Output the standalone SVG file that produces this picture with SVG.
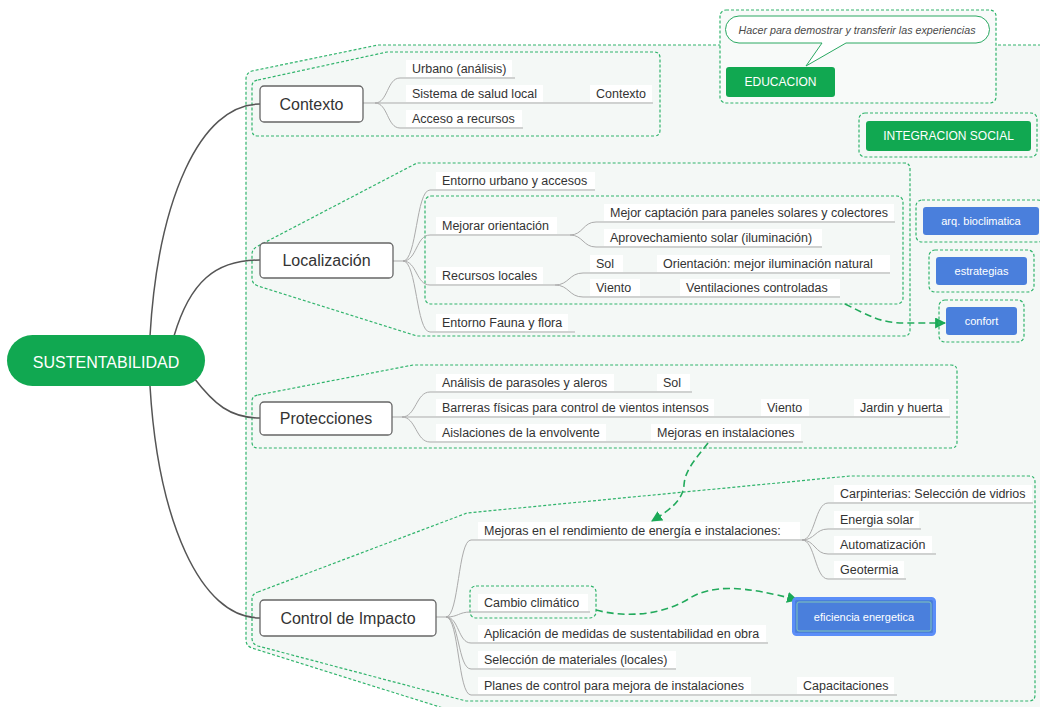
<svg xmlns="http://www.w3.org/2000/svg" width="1040" height="707" viewBox="0 0 1040 707">
<defs>
<style>
text{font-family:"Liberation Sans",Arial,Helvetica,sans-serif}
.dash{fill:none;stroke:#30b46c;stroke-width:1.2;stroke-dasharray:3 2}
.box{fill:#fff;stroke:#666;stroke-width:1.3}
.main{font-size:16px;fill:#333}
.lbl{font-size:12.5px;fill:#333}
.bg{fill:#fff}
.ul{fill:none;stroke:#ababab;stroke-width:1}
.trunk{fill:none;stroke:#555;stroke-width:1.5}
.link{fill:none;stroke:#22aa5c;stroke-width:1.6;stroke-dasharray:7 4}
.green{fill:#11a851}
.blue{fill:#4a7fdc}
.wt{fill:#fff;text-anchor:middle}
</style>
<marker id="arr" viewBox="0 0 10 10" refX="9" refY="5" markerWidth="11" markerHeight="11" markerUnits="userSpaceOnUse" orient="auto">
<path d="M0,0 L10,5 L0,10 Z" fill="#1aa957"/>
</marker>
</defs>
<rect width="1040" height="707" fill="#fff"/>
<!-- outer boundary -->
<path d="M1046,45 H378 L252,71 Q246,73 246,79 V640 Q246,646 252,648 L462,714 H1046 Z" fill="#f4f8f6"/>
<path class="dash" d="M1046,45 H378 L252,71 Q246,73 246,79 V640 Q246,646 252,648 L462,714"/>

<!-- group boundaries -->
<g id="boundaries">
<path class="dash" d="M258,80 L387,52 H654 Q660,52 660,58 V130 Q660,136 654,136 H258 Q252,136 252,130 V86 Q252,81 258,80 Z"/>
<path class="dash" d="M258,246 L417,163 H904 Q910,163 910,169 V330 Q910,336 904,336 H417 L258,286 Q252,284 252,278 V254 Q252,249 258,246 Z"/>
<rect class="dash" x="425" y="196" width="478" height="108" rx="6"/>
<path class="dash" d="M258,395 L413,365 H951 Q957,365 957,371 V442 Q957,448 951,448 H258 Q252,448 252,442 V401 Q252,396 258,395 Z"/>
<path class="dash" d="M258,592 L467,513 L850,476 H1029 Q1035,476 1035,482 V695 Q1035,701 1029,701 H466 L258,646 Q252,644 252,638 V599 Q252,594 258,592 Z"/>
<rect class="dash" x="470" y="586" width="126" height="32" rx="6"/>
</g>

<!-- connectors -->
<g id="connectors">
<path class="trunk" d="M150,336 C158,200 200,104 260,104"/>
<path class="trunk" d="M174,336 C190,282 215,260 260,260"/>
<path class="trunk" d="M194,378 C214,404 230,418 260,418"/>
<path class="trunk" d="M150,386 C158,520 200,618 260,618"/>
<!-- Contexto -->
<path class="ul" d="M363,103 H375"/>
<path class="ul" d="M375,103 C388,103 387,78 400,78 H515"/>
<path class="ul" d="M375,103 H653"/>
<path class="ul" d="M375,103 C388,103 387,128 400,128 H523"/>
<!-- Localizacion -->
<path class="ul" d="M393,261 H403"/>
<path class="ul" d="M403,261 C417,261 416,190 430,190 H595"/>
<path class="ul" d="M403,261 C417,261 416,235 430,235 H570"/>
<path class="ul" d="M403,261 C417,261 416,285 430,285 H555"/>
<path class="ul" d="M403,261 C417,261 416,332 430,332 H575"/>
<path class="ul" d="M570,235 C583,235 583,222 596,222 H895"/>
<path class="ul" d="M570,235 C583,235 583,247 596,247 H822"/>
<path class="ul" d="M555,285 C569,285 569,273 583,273 H890"/>
<path class="ul" d="M555,285 C569,285 569,297 583,297 H840"/>
<!-- Protecciones -->
<path class="ul" d="M392,417 H402"/>
<path class="ul" d="M402,417 C416,417 416,392 430,392 H692"/>
<path class="ul" d="M402,417 H950"/>
<path class="ul" d="M402,417 C416,417 416,442 430,442 H803"/>
<!-- Control de Impacto -->
<path class="ul" d="M436,617 H446"/>
<path class="ul" d="M446,617 C459,617 458,540 471,540 H802"/>
<path class="ul" d="M446,617 C459,617 458,612 471,612 H590"/>
<path class="ul" d="M446,617 C459,617 458,643 471,643 H768"/>
<path class="ul" d="M446,617 C459,617 458,669 471,669 H676"/>
<path class="ul" d="M446,617 C459,617 458,695 471,695 H897"/>
<path class="ul" d="M802,540 C815,540 815,503 828,503 H1033"/>
<path class="ul" d="M802,540 C815,540 815,529 828,529 H921"/>
<path class="ul" d="M802,540 C815,540 815,554 828,554 H936"/>
<path class="ul" d="M802,540 C815,540 815,579 828,579 H906"/>
<!-- dashed relationship arrows -->
<path class="link" d="M845,304 C870,316 880,323 905,323 L945,323" marker-end="url(#arr)"/>
<path class="link" d="M708,443 C695,460 685,470 684,485 C683,500 670,510 652,521" marker-end="url(#arr)"/>
<path class="link" d="M596,610 C622,617 660,617 690,598 C712,585 742,585 797,600" marker-end="url(#arr)"/>
</g>

<!-- main node -->
<g id="n-sustentabilidad">
<rect class="green" x="7" y="335" width="198" height="51" rx="25.5"/>
<text class="wt" x="106" y="368" font-size="16">SUSTENTABILIDAD</text>
</g>

<!-- Contexto -->
<g id="n-contexto">
<rect class="box" x="260" y="86" width="103" height="36" rx="4"/>
<text class="main" x="311.5" y="110" text-anchor="middle">Contexto</text>
</g>
<g id="n-urbano"><rect class="bg" x="406" y="60" width="106" height="17"/><text class="lbl" x="412" y="73">Urbano (análisis)</text></g>
<g id="n-sistema"><rect class="bg" x="406" y="85" width="137" height="17"/><text class="lbl" x="412" y="98">Sistema de salud local</text></g>
<g id="n-contexto2"><rect class="bg" x="590" y="85" width="62" height="17"/><text class="lbl" x="596" y="98">Contexto</text></g>
<g id="n-acceso"><rect class="bg" x="406" y="110" width="116" height="17"/><text class="lbl" x="412" y="123">Acceso a recursos</text></g>

<!-- Localizacion -->
<g id="n-localizacion">
<rect class="box" x="260" y="243" width="133" height="35" rx="4"/>
<text class="main" x="326.5" y="266" text-anchor="middle">Localización</text>
</g>
<g id="n-entorno-urbano"><rect class="bg" x="436" y="172" width="159" height="17"/><text class="lbl" x="442" y="185">Entorno urbano y accesos</text></g>
<g id="n-mejorar"><rect class="bg" x="436" y="217" width="121" height="17"/><text class="lbl" x="442" y="230">Mejorar orientación</text></g>
<g id="n-captacion"><rect class="bg" x="604" y="204" width="290" height="17"/><text class="lbl" x="610" y="217">Mejor captación para paneles solares y colectores</text></g>
<g id="n-aprovechamiento"><rect class="bg" x="604" y="229" width="218" height="17"/><text class="lbl" x="610" y="242">Aprovechamiento solar (iluminación)</text></g>
<g id="n-recursos"><rect class="bg" x="436" y="267" width="107" height="17"/><text class="lbl" x="442" y="280">Recursos locales</text></g>
<g id="n-sol1"><rect class="bg" x="590" y="255" width="33" height="17"/><text class="lbl" x="596" y="268">Sol</text></g>
<g id="n-orientacion"><rect class="bg" x="657" y="255" width="233" height="17"/><text class="lbl" x="663" y="268">Orientación: mejor iluminación natural</text></g>
<g id="n-viento1"><rect class="bg" x="590" y="279" width="50" height="17"/><text class="lbl" x="596" y="292">Viento</text></g>
<g id="n-ventilaciones"><rect class="bg" x="680" y="279" width="160" height="17"/><text class="lbl" x="686" y="292">Ventilaciones controladas</text></g>
<g id="n-fauna"><rect class="bg" x="436" y="314" width="132" height="17"/><text class="lbl" x="442" y="327">Entorno Fauna y flora</text></g>

<!-- Protecciones -->
<g id="n-protecciones">
<rect class="box" x="260" y="402" width="132" height="33" rx="4"/>
<text class="main" x="326" y="424" text-anchor="middle">Protecciones</text>
</g>
<g id="n-analisis"><rect class="bg" x="436" y="374" width="178" height="17"/><text class="lbl" x="442" y="387">Análisis de parasoles y aleros</text></g>
<g id="n-sol2"><rect class="bg" x="657" y="374" width="33" height="17"/><text class="lbl" x="663" y="387">Sol</text></g>
<g id="n-barreras"><rect class="bg" x="436" y="399" width="278" height="17"/><text class="lbl" x="442" y="412">Barreras físicas para control de vientos intensos</text></g>
<g id="n-viento2"><rect class="bg" x="761" y="399" width="48" height="17"/><text class="lbl" x="767" y="412">Viento</text></g>
<g id="n-jardin"><rect class="bg" x="854" y="399" width="95" height="17"/><text class="lbl" x="860" y="412">Jardin y huerta</text></g>
<g id="n-aislaciones"><rect class="bg" x="436" y="424" width="170" height="17"/><text class="lbl" x="442" y="437">Aislaciones de la envolvente</text></g>
<g id="n-mejoras-inst"><rect class="bg" x="651" y="424" width="150" height="17"/><text class="lbl" x="657" y="437">Mejoras en instalaciones</text></g>

<!-- Control de Impacto -->
<g id="n-control">
<rect class="box" x="260" y="600" width="176" height="36" rx="4"/>
<text class="main" x="348" y="624" text-anchor="middle">Control de Impacto</text>
</g>
<g id="n-rendimiento"><rect class="bg" x="478" y="522" width="322" height="17"/><text class="lbl" x="484" y="535">Mejoras en el rendimiento de energía e instalaciones:</text></g>
<g id="n-carpinterias"><rect class="bg" x="834" y="485" width="198" height="17"/><text class="lbl" x="840" y="498">Carpinterias: Selección de vidrios</text></g>
<g id="n-energia"><rect class="bg" x="834" y="511" width="85" height="17"/><text class="lbl" x="840" y="524">Energia solar</text></g>
<g id="n-automatizacion"><rect class="bg" x="834" y="536" width="98" height="17"/><text class="lbl" x="840" y="549">Automatización</text></g>
<g id="n-geotermia"><rect class="bg" x="834" y="561" width="70" height="17"/><text class="lbl" x="840" y="574">Geotermia</text></g>
<g id="n-cambio"><rect class="bg" x="478" y="594" width="110" height="17"/><text class="lbl" x="484" y="607">Cambio climático</text></g>
<g id="n-aplicacion"><rect class="bg" x="478" y="625" width="288" height="17"/><text class="lbl" x="484" y="638">Aplicación de medidas de sustentabilidad en obra</text></g>
<g id="n-seleccion"><rect class="bg" x="478" y="651" width="198" height="17"/><text class="lbl" x="484" y="664">Selección de materiales (locales)</text></g>
<g id="n-planes"><rect class="bg" x="478" y="677" width="273" height="17"/><text class="lbl" x="484" y="690">Planes de control para mejora de instalaciones</text></g>
<g id="n-capacitaciones"><rect class="bg" x="797" y="677" width="97" height="17"/><text class="lbl" x="803" y="690">Capacitaciones</text></g>

<!-- EDUCACION -->
<g id="n-educacion">
<rect class="dash" x="720" y="10" width="276" height="93" rx="6" style="fill:#f8faf9"/>
<path d="M739,16 H976 A13.5,13.5 0 0 1 976,43 H846 L806,66 L822,43 H739 A13.5,13.5 0 0 1 739,16 Z" fill="#fff" stroke="#2aa862" stroke-width="1"/>
<text x="857" y="34" font-size="10.7" font-style="italic" fill="#4a4a4a" text-anchor="middle">Hacer para demostrar y transferir las experiencias</text>
<rect class="green" x="726" y="67" width="109" height="30" rx="3"/>
<text class="wt" x="780.5" y="86" font-size="12">EDUCACION</text>
</g>

<!-- INTEGRACION SOCIAL -->
<g id="n-integracion">
<rect class="dash" x="859" y="113" width="178" height="44" rx="6"/>
<rect class="green" x="866" y="121" width="165" height="30" rx="3"/>
<text class="wt" x="948.5" y="140" font-size="12">INTEGRACION SOCIAL</text>
</g>

<!-- blue nodes -->
<g id="n-arq">
<rect class="dash" x="916" y="200" width="128" height="42" rx="6"/>
<rect class="blue" x="923" y="207" width="116" height="28" rx="3"/>
<text class="wt" x="981" y="225" font-size="11">arq. bioclimatica</text>
</g>
<g id="n-estrategias">
<rect class="dash" x="929" y="250" width="105" height="42" rx="6"/>
<rect class="blue" x="936" y="257" width="91" height="28" rx="3"/>
<text class="wt" x="981.5" y="275" font-size="11">estrategias</text>
</g>
<g id="n-confort">
<rect class="dash" x="939" y="300" width="85" height="42" rx="6"/>
<rect class="blue" x="946" y="307" width="71" height="28" rx="3"/>
<text class="wt" x="981.5" y="325" font-size="11">confort</text>
</g>
<g id="n-eficiencia">
<rect x="793.5" y="598.5" width="141" height="36" rx="3" fill="#4a7fdc" stroke="#5b8ef8" stroke-width="3"/>
<rect x="797" y="602" width="134" height="29" rx="2" fill="none" stroke="#8fd8b0" stroke-width="0.8"/>
<text class="wt" x="864" y="621" font-size="11">eficiencia energetica</text>
</g>
</svg>
